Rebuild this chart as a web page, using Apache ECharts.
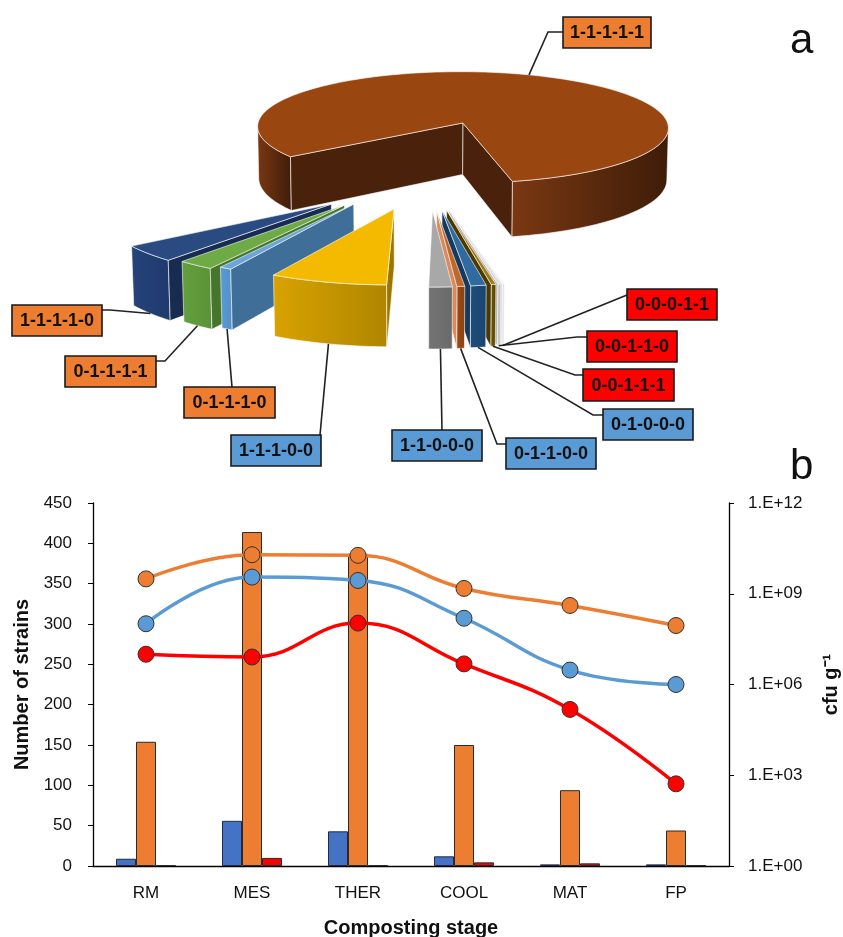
<!DOCTYPE html>
<html><head><meta charset="utf-8">
<script src="https://cdn.jsdelivr.net/npm/echarts@6/dist/echarts.min.js"></script>
<style>html,body{margin:0;padding:0;background:#fff}#c{width:843px;height:937px}</style>
</head><body><div id="c"></div>
<script>
// ---------------- DATA ----------------
// (a) pie: share (%) of strains per presence pattern
const pieLabels = ['1-1-1-1-1','1-1-1-1-0','0-1-1-1-1','0-1-1-1-0','1-1-1-0-0','1-1-0-0-0','0-1-1-0-0','0-1-0-0-0','0-0-1-1-1','0-0-1-1-0','0-0-0-1-1'];
const pieValues = [81.55, 4.0, 2.4, 0.8, 7.6, 1.5, 0.5, 1.0, 0.3, 0.2, 0.15];

// (b) bars + lines
const stages = ['RM','MES','THER','COOL','MAT','FP'];
const strainsBlue   = [9, 56, 43, 12, 2, 2];
const strainsOrange = [154, 414, 387, 150, 94, 44];
const strainsRed    = [1, 10, 1, 4.5, 3.3, 1];
const cfuOrange = [3.1e9, 1.95e10, 1.86e10, 1.5e9, 4.1e8, 8.9e7];
const cfuBlue   = [1.02e8, 3.55e9, 2.75e9, 1.55e8, 3.0e6, 1.0e6];
const cfuRed    = [1.0e7, 8.1e6, 1.07e8, 4.8e6, 1.5e5, 5.2e2];
const cfuTickLabels = ['1.E+00','1.E+03','1.E+06','1.E+09','1.E+12'];

// ---------------- STYLE / LAYOUT ----------------
const FONT = 'Liberation Sans';
const sliceStyle = [
  {top:'#9a4611', wall:['#7a3812','#3e1c08'], side:'#4a210b'},
  {top:'#2a4a82', wall:['#25437b','#1f3a6c'], side:'#182b50'},
  {top:'#6eab45', wall:['#64a03e','#5a9237'], side:'#47752c'},
  {top:'#6aa6dc', wall:['#5b9bd5','#5190c8'], side:'#3f6e98'},
  {top:'#f4ba00', wall:['#d8a200','#b08600'], side:'#9c7600'},
  {top:'#a8a8a8', wall:['#747474','#6a6a6a'], side:'#5a5a5a'},
  {top:'#c0682c', wall:['#9a4a16','#8a4212'], side:'#d98a5e'},
  {top:'#2f6aa0', wall:['#1e4e7c','#1a4570'], side:'#163a5e'},
  {top:'#a07a10', wall:['#6e5400','#5e4800'], side:'#4a3900'},
  {top:'#dcdcdc', wall:['#c8c8c8','#c0c0c0'], side:'#b0b0b0'},
  {top:'#f4f4f4', wall:['#e8e8e8','#e0e0e0'], side:'#d0d0d0'}
];
// explosion (sideways / forward factors along each slice's bisector)
const explodeX = [0.5, 0.567, 0.614, 0.638, 0.55, 0.95, 0.5, 0.5, 0.5, 0.5, 0.5];
const explodeY = [0.5, 1.25, 1.065, 0.98, 0.955, 0.95, 0.95, 0.95, 0.95, 0.95, 0.95];
const labelFill = ['#ED7D31','#ED7D31','#ED7D31','#ED7D31','#5B9BD5','#5B9BD5','#5B9BD5','#5B9BD5','#FF0000','#FF0000','#FF0000'];
const labelBox = [
  [563,17,88,31],[12,305,90,31],[65,356,91,31],[184,387,91,31],[231,435,90,31],
  [392,430,90,31],[506,438,90,31],[603,409,90,31],[583,369,91,32],[587,331,90,31],[627,289,90,31]
];
const labelConn = [
  [[548,32],[563,32]], [[110,310],[102,310]], [[165,361],[156,361]], [[232,387]], [[320,435]],
  [[442,430]], [[497,444],[506,444]], [[593,415],[603,415]], [[575,375],[583,375]], [[577,337],[587,337]], [[627,295]]
];
const PIE_START = 12.14;
const CAM = {cx:426, cy:203, F:2532, D:12, sa:0.3, ca:0.954, h:0.263};

// ---------------- PIE GEOMETRY (from data) ----------------
function proj(x, y, z) {
  const zw = z * CAM.h;
  const d = CAM.D - (y * CAM.ca + zw * CAM.sa);
  const up = zw * CAM.ca - y * CAM.sa;
  return [CAM.cx + CAM.F * x / d, CAM.cy - CAM.F * up / d];
}
const camW = [0, CAM.D * CAM.ca, CAM.D * CAM.sa];
const rad = a => a * Math.PI / 180;
function buildPie() {
  const total = pieValues.reduce((a, b) => a + b, 0);
  let a = PIE_START;
  const slices = pieValues.map((v, i) => {
    const span = v / total * 360;
    const s = {i, a0: a, a1: a + span};
    a += span;
    return s;
  });
  slices.forEach(s => {
    const mid = (s.a0 + s.a1) / 2;
    const nm = ((mid + 180) % 360 + 360) % 360 - 180;
    s.absMid = Math.abs(nm);
    s.ox = explodeX[s.i] * Math.sin(rad(mid));
    s.oy = explodeY[s.i] * Math.cos(rad(mid));
    s.mid = mid;
  });
  const order = slices.slice().sort((p, q) => q.absMid - p.absMid);
  order.forEach((s, r) => s.rank = r);
  slices.forEach(s => {
    const st = sliceStyle[s.i];
    const base = s.rank * 10;
    const P = (th, z) => proj(s.ox + Math.sin(rad(th)), s.oy + Math.cos(rad(th)), z);
    const O = z => proj(s.ox, s.oy, z);
    const n = Math.max(2, Math.ceil((s.a1 - s.a0) / 1.5));
    const angs = [];
    for (let k = 0; k <= n; k++) angs.push(s.a0 + (s.a1 - s.a0) * k / n);
    const faces = [];
    faces.push({pts: [O(1)].concat(angs.map(t => P(t, 1))), fill: st.top, z2: base + 5});
    const vis = angs.map(t => {
      const px = s.ox + Math.sin(rad(t)), py = s.oy + Math.cos(rad(t));
      return (-px) * Math.sin(rad(t)) + (camW[1] - py) * Math.cos(rad(t)) > 0;
    });
    let run = [];
    const flush = () => {
      if (run.length > 1) {
        const pts = run.map(t => P(t, 1)).concat(run.slice().reverse().map(t => P(t, 0)));
        faces.push({pts, fill: new echarts.graphic.LinearGradient(0, 0, 1, 0, [{offset: 0, color: st.wall[0]}, {offset: 1, color: st.wall[1]}]), z2: base + 1});
      }
      run = [];
    };
    angs.forEach((t, k) => { if (vis[k]) run.push(t); else flush(); });
    flush();
    const visRadial = (nx, ny) => (camW[0] - s.ox) * nx + (camW[1] - s.oy) * ny > 0;
    if (visRadial(-Math.cos(rad(s.a0)), Math.sin(rad(s.a0))))
      faces.push({pts: [O(1), P(s.a0, 1), P(s.a0, 0), O(0)], fill: st.side, z2: base + 2});
    if (visRadial(Math.cos(rad(s.a1)), -Math.sin(rad(s.a1))))
      faces.push({pts: [O(1), P(s.a1, 1), P(s.a1, 0), O(0)], fill: st.side, z2: base + 2});
    s.faces = faces;
    s.anchor = s.i === 0 ? P(s.mid, 1) : P(s.mid, 0);
  });
  return slices;
}
const PIE = buildPie();

function pieRenderItem(params, api) {
  const s = PIE[params.dataIndex];
  const children = s.faces.map(f => ({
    type: 'polygon', shape: {points: f.pts}, z2: f.z2,
    style: {fill: f.fill, stroke: 'rgba(255,255,255,0.75)', lineWidth: 0.8, lineJoin: 'round'}
  }));
  const b = labelBox[s.i];
  const pts = [s.anchor].concat(labelConn[s.i]);
  children.push({type: 'polyline', shape: {points: pts}, z2: 900, style: {stroke: '#222', lineWidth: 1.6, fill: null}});
  children.push({type: 'rect', shape: {x: b[0], y: b[1], width: b[2], height: b[3]}, z2: 950,
    style: {fill: labelFill[s.i], stroke: '#1a1a1a', lineWidth: 1.6}});
  children.push({type: 'text', z2: 960, style: {
    text: pieLabels[s.i],
    x: b[0] + b[2] / 2, y: b[1] + b[3] / 2 + 1, align: 'center', verticalAlign: 'middle',
    font: 'bold 18px "' + FONT + '"', fill: '#111'}});
  return {type: 'group', children};
}

// ---------------- CHART ----------------
const chart = echarts.init(document.getElementById('c'));
const axisLineStyle = {color: '#000', width: 1.3};
chart.setOption({
  animation: false,
  backgroundColor: '#fff',
  textStyle: {fontFamily: FONT},
  graphic: [
    {type: 'text', left: 790, top: 20, style: {text: 'a', font: '42px "' + FONT + '"', fill: '#111'}},
    {type: 'text', left: 790, top: 446, style: {text: 'b', font: '42px "' + FONT + '"', fill: '#111'}}
  ],
  grid: {left: 93, right: 114, top: 503, bottom: 71, containLabel: false, outerBoundsMode: 'none'},
  xAxis: {
    type: 'category', data: stages,
    axisLine: {lineStyle: axisLineStyle}, axisTick: {show: false},
    axisLabel: {fontSize: 17, color: '#111', margin: 19},
    name: 'Composting stage', nameLocation: 'middle', nameGap: 52,
    nameTextStyle: {fontSize: 20, fontWeight: 'bold', color: '#111'}
  },
  yAxis: [
    {
      type: 'value', min: 0, max: 450, interval: 50,
      axisLine: {show: true, lineStyle: axisLineStyle},
      axisTick: {show: true, length: 5, lineStyle: {color: '#000'}},
      splitLine: {show: false},
      axisLabel: {fontSize: 17, color: '#111', margin: 21},
      name: 'Number of strains', nameLocation: 'middle', nameGap: 61, nameRotate: 90,
      nameTextStyle: {fontSize: 20, fontWeight: 'bold', color: '#111'}
    },
    {
      type: 'log', logBase: 10, min: 1, max: 1e12, interval: 3, position: 'right',
      axisLine: {show: true, lineStyle: axisLineStyle},
      axisTick: {show: true, length: 5, lineStyle: {color: '#000'}},
      splitLine: {show: false}, minorTick: {show: false},
      axisLabel: {fontSize: 17, color: '#111', margin: 19,
        formatter: v => cfuTickLabels[Math.round(Math.log10(v) / 3)]},
      name: 'cfu g⁻¹', nameLocation: 'middle', nameGap: 92, nameRotate: 90,
      nameTextStyle: {fontSize: 20, fontWeight: 'bold', color: '#111'}
    }
  ],
  series: [
    {type: 'custom', coordinateSystem: 'none', renderItem: pieRenderItem, silent: true,
     data: pieValues.map((v, i) => ({name: pieLabels[i], value: [i, v]})), z: 1},
    {type: 'bar', data: strainsBlue, barWidth: 20, barGap: '0%',
     itemStyle: {color: '#4472C4', borderColor: '#1f2a44', borderWidth: 1}},
    {type: 'bar', data: strainsOrange, barWidth: 20, barGap: '0%',
     itemStyle: {color: '#ED7D31', borderColor: '#2a2a2a', borderWidth: 1}},
    {type: 'bar', data: strainsRed, barWidth: 20, barGap: '0%',
     itemStyle: {color: '#FF0000', borderColor: '#2a2a2a', borderWidth: 1}},
    {type: 'line', yAxisIndex: 1, data: cfuOrange, smooth: 0.45, symbol: 'circle', symbolSize: 16,
     lineStyle: {color: '#ED7D31', width: 3.5}, itemStyle: {color: '#ED7D31', borderColor: '#333', borderWidth: 1}, z: 5},
    {type: 'line', yAxisIndex: 1, data: cfuBlue, smooth: 0.45, symbol: 'circle', symbolSize: 16,
     lineStyle: {color: '#5B9BD5', width: 3.5}, itemStyle: {color: '#5B9BD5', borderColor: '#333', borderWidth: 1}, z: 5},
    {type: 'line', yAxisIndex: 1, data: cfuRed, smooth: 0.45, symbol: 'circle', symbolSize: 16,
     lineStyle: {color: '#FF0000', width: 3.5}, itemStyle: {color: '#FF0000', borderColor: '#333', borderWidth: 1}, z: 5}
  ]
});
</script>
</body></html>
